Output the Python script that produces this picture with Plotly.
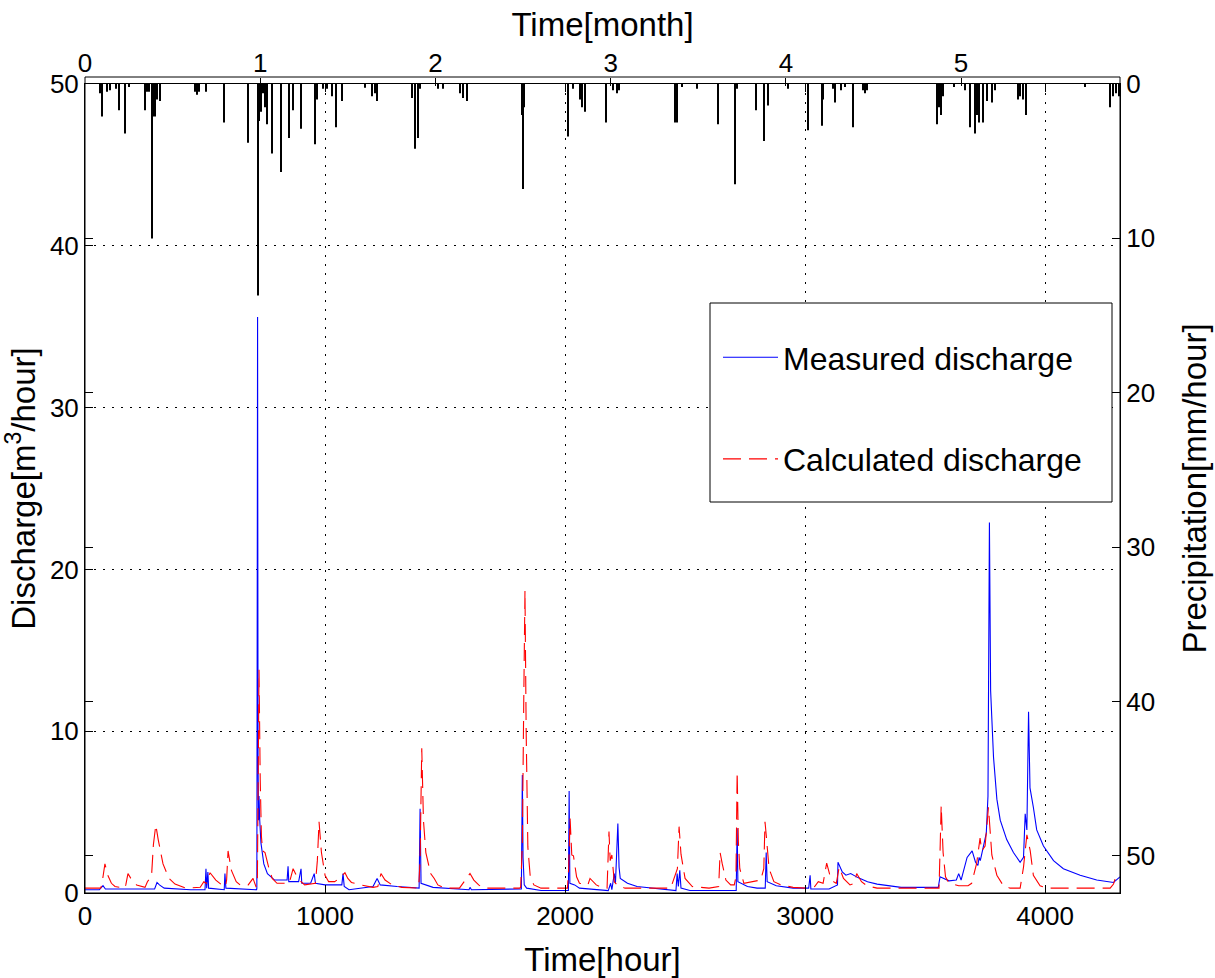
import plotly.graph_objects as go

# Hourly record, roughly six months (time in hours from start)
HOURS_PER_MONTH = 730
hour_range = [0, 4312]
hour_ticks = [0, 1000, 2000, 3000, 4000]
month_ticks = [0, 1, 2, 3, 4, 5]
discharge_ticks = [0, 10, 20, 30, 40, 50]
rain_ticks = [0, 10, 20, 30, 40, 50]

# Measured discharge [m3/hour] as (hour, value)
measured = [
    (0, 0.2), (60, 0.2), (75, 0.45), (85, 0.25), (290, 0.25), (300, 0.65), (310, 0.5),
    (330, 0.3), (440, 0.2), (500, 0.2), (504, 1.5), (507, 0.3), (512, 1.3), (515, 0.3),
    (580, 0.2), (583, 1.2), (587, 0.3), (715, 0.2), (716, 0.3), (719, 35.6), (721, 8.0),
    (723, 4.5), (725, 6.0), (728, 4.5), (733, 3.1), (745, 1.8), (760, 1.2), (790, 0.8),
    (842, 0.8), (846, 1.65), (849, 0.7), (890, 0.7), (900, 1.5), (903, 0.6), (940, 0.6),
    (955, 1.2), (960, 0.6), (1000, 0.5), (1070, 0.5), (1075, 1.2), (1080, 0.4),
    (1100, 0.2), (1200, 0.4), (1217, 0.9), (1230, 0.5), (1300, 0.4), (1392, 0.3),
    (1396, 5.2), (1400, 0.6), (1450, 0.35), (1600, 0.2), (1604, 0.35), (1610, 0.2),
    (1818, 0.25), (1822, 7.3), (1825, 2.2), (1830, 0.5), (1840, 0.3), (1900, 0.15),
    (2014, 0.15), (2017, 6.3), (2020, 0.6), (2040, 0.5), (2060, 0.3), (2180, 0.15),
    (2190, 0.6), (2195, 0.2), (2205, 1.2), (2210, 0.6), (2220, 4.3), (2225, 1.6),
    (2230, 0.9), (2260, 0.6), (2300, 0.4), (2450, 0.15), (2462, 0.15), (2467, 1.2),
    (2472, 0.4), (2478, 1.4), (2483, 0.3), (2520, 0.15), (2713, 0.15), (2717, 4.0),
    (2720, 0.7), (2760, 0.4), (2800, 0.3), (2834, 0.3), (2838, 2.5), (2842, 0.7),
    (2880, 0.45), (2950, 0.3), (3015, 0.3), (3021, 1.1), (3024, 0.25), (3100, 0.25),
    (3120, 0.4), (3135, 0.5), (3137, 1.9), (3145, 1.6), (3155, 1.3), (3170, 1.1),
    (3190, 1.2), (3220, 0.95), (3260, 0.7), (3300, 0.55), (3350, 0.45), (3400, 0.35),
    (3530, 0.35), (3555, 0.35), (3562, 1.0), (3600, 0.75), (3630, 0.8), (3640, 1.2),
    (3650, 0.8), (3675, 2.2), (3696, 2.6), (3710, 1.9), (3720, 1.7), (3725, 2.2),
    (3730, 2.0), (3755, 3.7), (3762, 6.0), (3768, 22.9), (3773, 12.5), (3785, 8.4),
    (3799, 5.8), (3813, 4.5), (3840, 3.3), (3868, 2.5), (3896, 1.9), (3910, 2.2),
    (3917, 4.9), (3924, 3.9), (3931, 11.2), (3937, 6.5), (3951, 5.3), (3965, 3.9),
    (3993, 2.9), (4035, 2.0), (4076, 1.5), (4146, 1.1), (4215, 0.8), (4285, 0.65),
    (4312, 1.0),
]

# Calculated discharge [m3/hour] as (hour, value)
calculated = [
    (0, 0.3), (65, 0.3), (70, 0.5), (78, 1.3), (83, 1.8), (95, 1.1), (110, 0.6),
    (125, 0.4), (165, 0.3), (170, 0.5), (179, 1.2), (195, 0.8), (215, 0.5), (250, 0.35),
    (260, 0.7), (270, 0.9), (277, 1.0), (285, 3.0), (295, 4.2), (305, 3.3), (325, 1.8),
    (350, 0.9), (375, 0.55), (420, 0.3), (480, 0.35), (495, 0.7), (505, 0.6),
    (521, 1.25), (545, 0.8), (570, 0.5), (585, 0.4), (590, 0.8), (596, 2.6), (610, 1.4),
    (630, 0.7), (650, 0.45), (680, 0.5), (700, 0.9), (712, 0.4), (718, 0.5), (722, 8.0),
    (725, 13.8), (730, 7.0), (735, 3.5), (740, 2.6), (750, 2.5), (765, 1.6), (780, 0.9),
    (800, 0.6), (850, 0.6), (858, 1.0), (867, 1.5), (880, 1.1), (900, 0.7), (915, 0.5),
    (960, 0.6), (968, 2.0), (975, 4.4), (985, 2.5), (1000, 1.1), (1015, 0.7),
    (1040, 0.7), (1060, 0.9), (1083, 1.25), (1095, 0.9), (1110, 0.65), (1150, 0.5),
    (1200, 0.35), (1220, 0.4), (1225, 0.8), (1233, 1.2), (1250, 0.8), (1280, 0.5),
    (1320, 0.35), (1390, 0.3), (1396, 2.0), (1403, 8.95), (1410, 4.5), (1420, 2.5),
    (1440, 1.2), (1455, 0.9), (1470, 0.5), (1500, 0.3), (1560, 0.3), (1575, 0.6),
    (1604, 1.2), (1620, 0.8), (1640, 0.5), (1660, 0.3), (1810, 0.3), (1815, 0.35),
    (1822, 3.0), (1828, 12.0), (1833, 18.7), (1838, 10.0), (1845, 2.85), (1855, 1.0),
    (1870, 0.5), (1900, 0.3), (2010, 0.3), (2015, 1.5), (2021, 4.6), (2028, 2.35),
    (2035, 2.3), (2048, 1.0), (2060, 0.6), (2095, 0.5), (2104, 0.9), (2130, 0.5),
    (2160, 0.3), (2175, 0.3), (2179, 2.0), (2183, 3.8), (2188, 2.0), (2195, 2.35),
    (2205, 0.7), (2220, 0.45), (2250, 0.3), (2440, 0.3), (2468, 1.5), (2475, 4.1),
    (2483, 2.4), (2500, 0.9), (2530, 0.4), (2600, 0.3), (2640, 0.4), (2646, 2.5),
    (2655, 1.8), (2670, 0.8), (2690, 0.5), (2705, 0.5), (2712, 1.0), (2717, 7.5),
    (2722, 3.2), (2728, 1.5), (2745, 0.6), (2790, 0.7), (2815, 0.8), (2828, 1.5),
    (2833, 4.4), (2838, 3.6), (2850, 1.5), (2870, 0.7), (2900, 0.5), (2950, 0.35),
    (3000, 0.3), (3040, 0.4), (3055, 0.7), (3075, 0.6), (3090, 1.85), (3105, 1.0),
    (3118, 0.7), (3130, 0.6), (3142, 1.6), (3160, 0.9), (3187, 0.5), (3205, 0.6),
    (3215, 1.2), (3235, 0.7), (3257, 0.45), (3300, 0.3), (3558, 0.3), (3563, 3.0),
    (3567, 5.4), (3575, 2.5), (3585, 1.0), (3600, 0.6), (3640, 0.45), (3679, 0.45),
    (3694, 0.6), (3715, 1.85), (3729, 3.4), (3736, 2.6), (3750, 2.9), (3764, 5.3),
    (3778, 2.35), (3799, 1.1), (3826, 0.45), (3854, 0.3), (3896, 0.3), (3910, 1.6),
    (3924, 3.6), (3938, 2.6), (3951, 1.1), (3979, 0.45), (4007, 0.3), (4271, 0.3),
    (4285, 0.55), (4292, 0.9), (4312, 0.9),
]

# Hourly precipitation [mm/hour] as (hour, value)
rainfall = [
    (62, 0.6), (70, 2.1), (92, 0.5), (104, 0.4), (129, 0.3), (142, 1.7), (167, 3.2),
    (183, 0.2), (250, 1.7), (258, 0.5), (267, 0.5), (278, 10.0), (283, 2.1), (292, 2.1),
    (300, 1.0), (312, 1.1), (458, 0.5), (467, 0.7), (475, 0.5), (504, 0.5), (579, 2.5),
    (679, 3.8), (720, 13.7), (725, 2.4), (733, 1.8), (742, 0.6), (750, 1.5), (758, 2.6),
    (779, 4.5), (815, 5.7), (850, 3.5), (867, 1.7), (899, 2.9), (958, 3.9), (965, 1.0),
    (992, 0.3), (1008, 0.3), (1029, 0.8), (1046, 2.8), (1071, 1.1), (1167, 0.25),
    (1196, 0.8), (1208, 0.6), (1217, 1.1), (1363, 0.9), (1375, 4.2), (1388, 3.5),
    (1396, 0.3), (1471, 0.3), (1492, 0.3), (1563, 0.6), (1575, 0.9), (1592, 1.1),
    (1821, 2.0), (1825, 6.8), (1829, 1.5), (2012, 3.4), (2033, 0.3), (2062, 1.0),
    (2071, 1.5), (2083, 1.8), (2171, 2.5), (2200, 0.4), (2217, 0.6), (2225, 0.4),
    (2458, 2.5), (2467, 2.5), (2488, 0.2), (2550, 0.3), (2638, 2.6), (2708, 6.5),
    (2717, 0.3), (2796, 1.7), (2829, 3.7), (2846, 1.4), (2929, 0.3), (3013, 3.0),
    (3071, 2.7), (3075, 1.0), (3117, 0.3), (3125, 1.2), (3150, 0.4), (3167, 0.2),
    (3200, 2.8), (3242, 0.4), (3250, 0.6), (3258, 0.4), (3550, 2.6), (3558, 1.5),
    (3567, 2.0), (3575, 0.8), (3621, 0.2), (3667, 0.4), (3688, 2.8), (3708, 3.2),
    (3717, 2.0), (3725, 2.5), (3742, 2.5), (3758, 1.1), (3779, 1.2), (3792, 0.4),
    (3888, 1.0), (3896, 0.8), (3908, 1.0), (3921, 2.0), (4167, 0.2), (4271, 1.5),
    (4283, 0.8), (4296, 0.6), (4308, 0.8),
]

meas_h, meas_q = zip(*measured)
calc_h, calc_q = zip(*calculated)
rain_h, rain_mm = zip(*rainfall)

FONT = "Liberation Sans, Arial, Helvetica, sans-serif"
TICK_SIZE = 26
TITLE_SIZE = 33
LEGEND_SIZE = 32

fig = go.Figure()

# Precipitation bars hanging from the top on the reversed right axis
fig.add_trace(go.Bar(
    x=rain_h, y=rain_mm, yaxis="y2", width=4,
    marker=dict(color="black", line=dict(width=0)),
    showlegend=False, hoverinfo="x+y",
))

fig.add_trace(go.Scatter(
    x=meas_h, y=meas_q, mode="lines", name="Measured discharge",
    line=dict(color="#0000ff", width=1.1), legendgroup="m",
))
fig.add_trace(go.Scatter(
    x=calc_h, y=calc_q, mode="lines", name="Calculated discharge",
    line=dict(color="#ff0000", width=1.1, dash="18px,8px"), legendgroup="c",
))

# Carrier trace so the month axis is drawn
fig.add_trace(go.Scatter(
    x=[month_ticks[0]], y=[None], xaxis="x2", mode="lines",
    showlegend=False, hoverinfo="skip",
))

W, H = 1215, 978
ML, MR, MT, MB = 85, 95, 77, 85
plot_w = W - ML - MR
plot_h = H - MT - MB
y_top = 1 - 7 / plot_h  # inner frame sits a few pixels below the month axis line

fig.update_layout(
    width=W, height=H,
    margin=dict(l=ML, r=MR, t=MT, b=MB, pad=0, autoexpand=False),
    paper_bgcolor="white", plot_bgcolor="white",
    font=dict(family=FONT, size=TICK_SIZE, color="black"),
    barmode="overlay",
    xaxis=dict(
        range=hour_range, tickvals=hour_ticks, ticks="inside", ticklen=8,
        tickcolor="black", showline=True, linecolor="black", linewidth=1,
        mirror="ticks", showgrid=True, gridcolor="black", gridwidth=1,
        griddash="2px,7px", zeroline=False, automargin=False,
        title=dict(text="Time[hour]", font=dict(size=TITLE_SIZE), standoff=20),
        tickfont=dict(size=TICK_SIZE),
    ),
    xaxis2=dict(
        overlaying="x", side="top", anchor="free", position=1,
        range=[hour_range[0] / HOURS_PER_MONTH, hour_range[1] / HOURS_PER_MONTH],
        tickvals=month_ticks, ticks="inside", ticklen=8, tickcolor="black",
        showline=False, showgrid=False, zeroline=False, automargin=False,
        title=dict(text="Time[month]", font=dict(size=TITLE_SIZE), standoff=0),
        tickfont=dict(size=TICK_SIZE),
    ),
    yaxis=dict(
        domain=[0, y_top], range=[0, 50], tickvals=discharge_ticks,
        ticks="inside", ticklen=8, tickcolor="black", showline=True,
        linecolor="black", linewidth=1, showgrid=True, gridcolor="black",
        gridwidth=1, griddash="2px,7px", zeroline=False, automargin=False,
        title=dict(text="Discharge[m<sup>3</sup>/hour]", font=dict(size=TITLE_SIZE), standoff=8),
        tickfont=dict(size=TICK_SIZE),
    ),
    yaxis2=dict(
        overlaying="y", side="right", range=[52.4, 0], tickvals=rain_ticks,
        ticks="inside", ticklen=8, tickcolor="black", showline=True,
        linecolor="black", linewidth=1, mirror="ticks", showgrid=False,
        zeroline=False, automargin=False,
        title=dict(text="Precipitation[mm/hour]", font=dict(size=TITLE_SIZE), standoff=28),
        tickfont=dict(size=TICK_SIZE),
    ),
    legend=dict(
        x=(718 - ML) / plot_w, y=1 - (330 - MT) / plot_h,
        xanchor="left", yanchor="top", bgcolor="rgba(0,0,0,0)",
        borderwidth=0, font=dict(size=LEGEND_SIZE), tracegroupgap=57,
        itemwidth=55,
    ),
    shapes=[
        # outer frame enclosing the month strip
        dict(type="rect", xref="paper", yref="paper", x0=0, x1=1, y0=0, y1=1,
             line=dict(color="black", width=1), layer="above"),
        # legend box
        dict(type="rect", xref="paper", yref="paper",
             x0=(710 - ML) / plot_w, x1=(1112 - ML) / plot_w,
             y0=1 - (502 - MT) / plot_h, y1=1 - (303 - MT) / plot_h,
             line=dict(color="black", width=1), fillcolor="white", layer="above"),
    ],
)

fig.write_html("out.html")
